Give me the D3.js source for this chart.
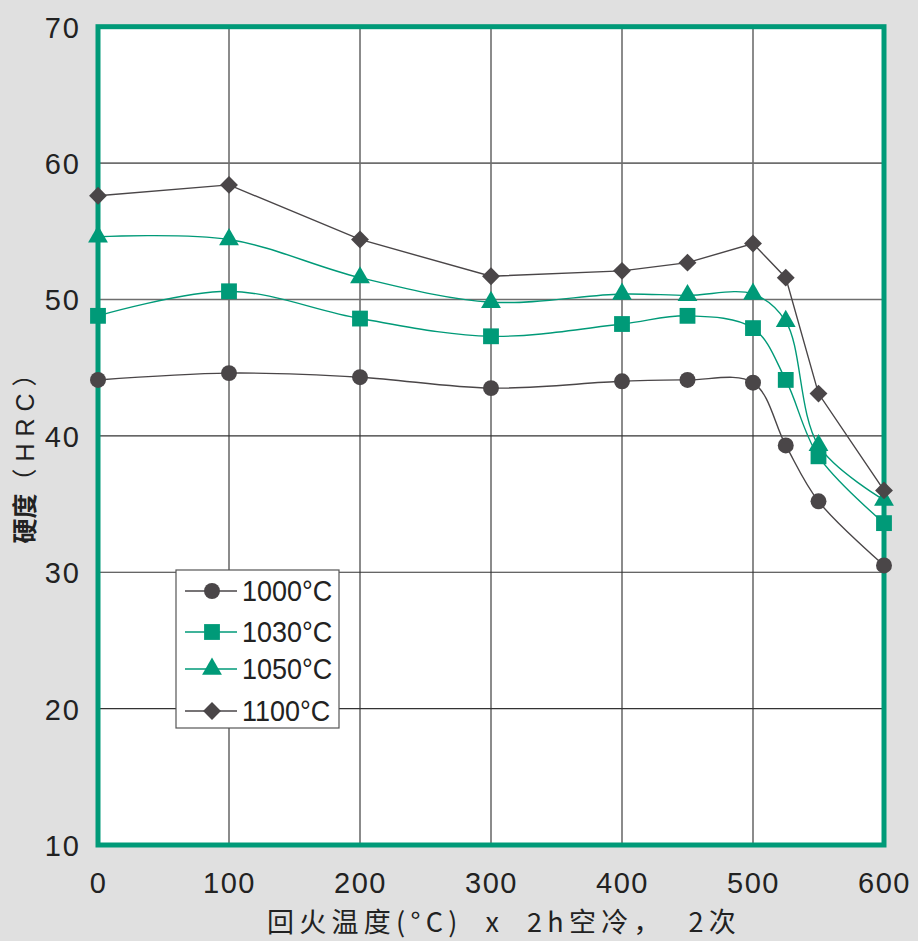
<!DOCTYPE html>
<html><head><meta charset="utf-8">
<script src="https://cdn.jsdelivr.net/npm/d3@7"></script>
<style>
html,body{margin:0;padding:0;background:#e0e0e0;}
svg{display:block;}
</style></head>
<body>
<svg id="c" width="918" height="941"></svg>
<script>
const temps = [0, 100, 200, 300, 400, 450, 500, 525, 550, 600];
const seriesNames = ["1000°C", "1030°C", "1050°C", "1100°C"];
const hrc1000 = [44.1, 44.6, 44.3, 43.5, 44.0, 44.1, 43.9, 39.3, 35.2, 30.5];
const hrc1030 = [48.8, 50.6, 48.6, 47.3, 48.2, 48.8, 47.9, 44.1, 38.5, 33.6];
const hrc1050 = [54.6, 54.4, 51.6, 49.8, 50.4, 50.3, 50.4, 48.4, 39.3, 35.3];
const hrc1100 = [57.6, 58.4, 54.4, 51.7, 52.1, 52.7, 54.1, 51.6, 43.1, 36.0];
const xTicks = [0, 100, 200, 300, 400, 500, 600];
const yTicks = [10, 20, 30, 40, 50, 60, 70];
const xTitle = "回火温度(°C)  x  2h空冷，  2次";
const yTitleA = "硬度";
const yTitleB = "（HRC）";

const dark = "#4a4648", green = "#009a78";
const diamond = {draw(ctx, size) { const r = Math.sqrt(size / 2); ctx.moveTo(0, -r); ctx.lineTo(r, 0); ctx.lineTo(0, r); ctx.lineTo(-r, 0); ctx.closePath(); }};
const series = [
  {name: seriesNames[0], vals: hrc1000, color: dark, sym: d3.symbolCircle, size: 200, curve: d3.curveCatmullRom},
  {name: seriesNames[1], vals: hrc1030, color: green, sym: d3.symbolSquare, size: 250, curve: d3.curveCatmullRom},
  {name: seriesNames[2], vals: hrc1050, color: green, sym: d3.symbolTriangle, size: 170, curve: d3.curveCatmullRom},
  {name: seriesNames[3], vals: hrc1100, color: dark, sym: diamond, size: 160, curve: d3.curveLinear}
];

const svg = d3.select("#c");
const x = d3.scaleLinear().domain([0, 600]).range([98, 884]);
const y = d3.scaleLinear().domain([10, 70]).range([845, 26.7]);

svg.append("rect").attr("x", x(0)).attr("y", y(70)).attr("width", x(600) - x(0)).attr("height", y(10) - y(70)).attr("fill", "#fff");

// grid
const g = svg.append("g");
g.selectAll(".vg").data(xTicks.slice(1, -1)).join("line")
  .attr("x1", d => x(d)).attr("x2", d => x(d)).attr("y1", y(70)).attr("y2", y(10))
  .attr("stroke", "#6e6e6e").attr("stroke-width", 1.6);
g.selectAll(".hg").data(yTicks.slice(1, -1)).join("line")
  .attr("y1", d => y(d)).attr("y2", d => y(d)).attr("x1", x(0)).attr("x2", x(600))
  .attr("stroke", d => d >= 50 ? "#6e6e6e" : "#333").attr("stroke-width", d => d >= 50 ? 1.6 : 1.2);

// axes text
const xAxis = d3.axisBottom(x).tickValues(xTicks).tickSize(0).tickPadding(0);
const xa = svg.append("g").attr("transform", `translate(0,883)`).call(xAxis);
xa.select(".domain").remove();
xa.selectAll("text").attr("font-family", "Liberation Sans, Arial, sans-serif").attr("font-size", 29)
  .attr("fill", "#222").attr("letter-spacing", 1.5).attr("dy", "0.36em");

const yAxis = d3.axisLeft(y).tickValues(yTicks).tickSize(0).tickPadding(0);
const ya = svg.append("g").attr("transform", `translate(81,0)`).call(yAxis);
ya.select(".domain").remove();
ya.selectAll("text").attr("font-family", "Liberation Sans, Arial, sans-serif").attr("font-size", 29)
  .attr("fill", "#222").attr("letter-spacing", 2).attr("dy", "0.36em");

// lines
series.forEach(s => {
  const pts = temps.map((t, i) => [t, s.vals[i]]);
  svg.append("path").datum(pts)
    .attr("d", d3.line().x(d => x(d[0])).y(d => y(d[1])).curve(s.curve))
    .attr("fill", "none").attr("stroke", s.color).attr("stroke-width", 1.4);
});

// frame
svg.append("rect").attr("x", x(0)).attr("y", y(70)).attr("width", x(600) - x(0)).attr("height", y(10) - y(70))
  .attr("fill", "none").attr("stroke", green).attr("stroke-width", 5);

// markers
series.forEach(s => {
  svg.append("g").selectAll("path").data(temps.map((t, i) => [t, s.vals[i]])).join("path")
    .attr("transform", d => `translate(${x(d[0])},${y(d[1])})`)
    .attr("d", d3.symbol().type(s.sym).size(s.size))
    .attr("fill", s.color);
});

// legend
const lg = svg.append("g").attr("transform", "translate(176,570)");
lg.append("rect").attr("width", 163).attr("height", 158).attr("fill", "#fff").attr("stroke", "#555").attr("stroke-width", 1.2);
const ly = [21, 62, 99, 141];
series.forEach((s, i) => {
  const row = lg.append("g").attr("transform", `translate(0,${ly[i]})`);
  row.append("line").attr("x1", 9).attr("x2", 61).attr("stroke", s.color).attr("stroke-width", 1.4);
  row.append("path").attr("transform", "translate(36,0)").attr("d", d3.symbol().type(s.sym).size(s.size)).attr("fill", s.color);
  row.append("text").attr("transform", "translate(66,0) scale(0.93,1)").attr("dy", "0.36em").text(s.name)
    .attr("font-family", "Liberation Sans, Arial, sans-serif")
    .attr("font-size", 29).attr("fill", "#222");
});

// titles
svg.append("text").attr("x", (x(0) + x(600)) / 2 + 13).attr("y", 932).attr("text-anchor", "middle")
  .attr("font-family", "Noto Sans CJK SC, sans-serif").attr("font-size", 27).attr("letter-spacing", 5.3)
  .attr("fill", "#222").attr("xml:space", "preserve").style("white-space", "pre").text(xTitle);
const yt = svg.append("text").attr("transform", "translate(34,449) rotate(-90)").attr("text-anchor", "middle")
  .attr("font-family", "Noto Sans CJK SC, sans-serif").attr("font-size", 25)
  .attr("fill", "#222");
yt.append("tspan").attr("font-weight", "bold").text(yTitleA);
yt.append("tspan").attr("letter-spacing", 7).attr("font-family", "Liberation Sans, Noto Sans CJK SC, sans-serif").text(yTitleB);
</script>
</body></html>
